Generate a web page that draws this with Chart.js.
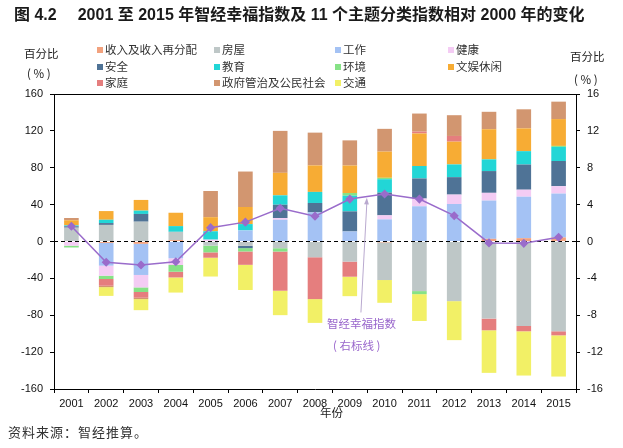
<!DOCTYPE html>
<html>
<head>
<meta charset="utf-8">
<script src="https://cdn.jsdelivr.net/npm/chart.js@4.4.1/dist/chart.umd.min.js"></script>
<style>
  html, body { margin: 0; padding: 0; background: #fff; }
  #wrap { position: relative; width: 623px; height: 448px; overflow: hidden;
          font-family: "Liberation Sans", "Noto Sans CJK SC", sans-serif; color: #222; }
  #chart { position: absolute; left: 0; top: 0; }
  .txt { position: absolute; white-space: nowrap; line-height: 1; }
  #title { left: 14px; top: 7px; font-size: 16px; font-weight: bold; color: #1a1a1a; }
  #title .num { margin-left: 21px; }
  .axt { font-size: 11.5px; font-family: "Noto Sans CJK SC", sans-serif; }
  .leg { position: absolute; font-size: 11.5px; font-family: "Noto Sans CJK SC", sans-serif;
         color: #333; white-space: nowrap; line-height: 14px; }
  .leg i { display: inline-block; width: 6px; height: 6px; margin-right: 2px; vertical-align: 1px; }
  .note { font-size: 11.5px; font-family: "Noto Sans CJK SC", sans-serif; color: #9966cc; }
</style>
</head>
<body>
<div id="wrap">
  <canvas id="chart" width="623" height="448"></canvas>
  <div id="title" class="txt">图 4.2<span class="num">2001 至 2015 年智经幸福指数及 11 个主题分类指数相对 2000 年的变化</span></div>
  <div class="txt axt" style="left:24px;top:48px;">百分比</div>
  <div class="txt axt" style="left:27px;top:68px;">( % )</div>
  <div class="txt axt" style="left:570px;top:51px;">百分比</div>
  <div class="txt axt" style="left:574px;top:74px;">( % )</div>
  <div class="txt axt" style="left:320px;top:407px;">年份</div>
  <div class="txt note" style="left:327px;top:318px;">智经幸福指数</div>
  <div class="txt note" style="left:333px;top:340px;">( 右标线 )</div>
  <div class="txt axt" style="left:8px;top:425px;font-size:13px;letter-spacing:1px;color:#333;">资料来源：智经推算。</div>
  <div id="legend"></div>
</div>
<script>
// categories
const years = ['2001', '2002', '2003', '2004', '2005', '2006', '2007', '2008',
  '2009', '2010', '2011', '2012', '2013', '2014', '2015'];

const seriesNames = ['收入及收入再分配', '房屋', '工作', '健康', '安全', '教育', '环境',
  '文娱休闲', '家庭', '政府管治及公民社会', '交通'];

// change vs 2000 (%), left axis
const income      = [0, -1.5, -2.5, 1.5, 0, 0, 0, 0, 0, -1, 0, 0, 2.9, 3.6, 4.4];
const housing     = [15, 18, 21.5, 9, -4.5, -4.7, -7.3, -17.1, -21.8, -40.8, -53.8, -64.7, -83.6, -91.6, -97.4];
const work        = [0, -24.7, -33.8, -18.2, 0, 12, 23.6, 31.6, 10.9, 24, 38.2, 40.7, 41.5, 45, 47.6];
const health      = [-4.5, -10.9, -13.5, -7.3, 2, 0, 1.8, 0, 0, 4.4, 8.4, 10.2, 8.4, 7.6, 8];
const safety      = [1.5, 2, 8.4, 0, 0, -2.5, 14.5, 10.2, 21.8, 24.7, 21.8, 18.9, 23.6, 27.3, 27.3];
const education   = [1, 3.6, 3.6, 6.2, 9.1, 6.9, 10.2, 12, 17, 14.5, 13.5, 13.8, 12.7, 14.5, 15.3];
const environment = [-2, -3.6, -5, -7.3, -7.3, -3.6, -3.6, 0, 2.9, 1.5, -3.3, 0, 0, 0, 1.1];
const leisure     = [5.5, 9.4, 11.6, 14.5, 15.3, 18.5, 24.4, 28.7, 29.8, 28.4, 35.3, 24.7, 32.7, 24.7, 29.1];
const family      = [0, -7.3, -6.2, -6.2, -5.8, -14.5, -42.5, -45.4, -16.4, 0, 2, 6.2, -12.7, -5.8, -4.4];
const governance  = [2.5, -1.5, -1.5, 0, 28.4, 38.5, 45.5, 35.6, 27.3, 24.7, 19.6, 22.5, 18.9, 20.7, 18.9];
const transport   = [0, -9.5, -12, -16.4, -20.4, -27.3, -26.5, -25.8, -21.1, -24.7, -29.1, -42.3, -46.2, -48, -44.7];

// happiness index (%), right axis
const happinessIndex = [1.65, -2.25, -2.55, -2.2, 1.5, 2.1, 3.6, 2.75, 4.6, 5.15, 4.6, 2.8, -0.15, -0.2, 0.45];

const seriesValues = [income, housing, work, health, safety, education, environment,
  leisure, family, governance, transport];
const seriesColors = ['#f2a27e', '#bec7c7', '#a4c2f4', '#f4ccf4', '#4f7396', '#22d6d6',
  '#86e286', '#f7ac34', '#e57e7e', '#d29670', '#f2f066'];
const lineColor = '#9a6ccb';

// legend (4 columns, built from the series)
const legCols = [97, 214, 335, 448];
const legRows = [42, 58.5, 75];
const legend = document.getElementById('legend');
seriesNames.forEach((name, i) => {
  const d = document.createElement('div');
  d.className = 'leg';
  d.style.left = legCols[i % 4] + 'px';
  d.style.top = legRows[Math.floor(i / 4)] + 'px';
  d.innerHTML = '<i style="background:' + seriesColors[i] + '"></i>' + name;
  legend.appendChild(d);
});

const datasets = seriesNames.map((name, i) => ({
  label: name,
  data: seriesValues[i],
  backgroundColor: seriesColors[i],
  borderWidth: 0,
  yAxisID: 'y',
  order: 1
}));
datasets.push({
  type: 'line',
  label: '智经幸福指数',
  data: happinessIndex,
  yAxisID: 'y1',
  borderColor: lineColor,
  backgroundColor: lineColor,
  borderWidth: 1.5,
  pointStyle: 'rectRot',
  pointRadius: 3.5,
  tension: 0,
  order: 0
});

// zero dashed line, top frame and the arrow to the line
const extras = {
  id: 'extras',
  beforeDatasetDraw(chart, args) {
    if (chart.data.datasets[args.index].type !== 'line') return;
    const ctx = chart.ctx, a = chart.chartArea;
    const y0 = chart.scales.y.getPixelForValue(0);
    ctx.save();
    ctx.strokeStyle = '#000';
    ctx.lineWidth = 1.2;
    ctx.setLineDash([4, 3]);
    ctx.beginPath();
    ctx.moveTo(a.left, y0);
    ctx.lineTo(a.right, y0);
    ctx.stroke();
    ctx.restore();
  },
  afterDraw(chart) {
    const ctx = chart.ctx, a = chart.chartArea;
    const sx = chart.scales.x, sy = chart.scales.y, sy1 = chart.scales.y1;
    ctx.save();
    ctx.strokeStyle = '#000';
    ctx.lineWidth = 1;
    ctx.beginPath();
    ctx.moveTo(a.left, a.top + 0.5);
    ctx.lineTo(a.right, a.top + 0.5);
    ctx.stroke();
    // arrow
    const x1 = sx.getPixelForValue(8.32), y1 = sy.getPixelForValue(-77);
    const x2 = sx.getPixelForValue(8.49), y2 = sy1.getPixelForValue(4.75);
    ctx.strokeStyle = '#b9a9cf';
    ctx.fillStyle = '#b9a9cf';
    ctx.beginPath();
    ctx.moveTo(x1, y1);
    ctx.lineTo(x2, y2 + 5);
    ctx.stroke();
    const ang = Math.atan2(y2 - y1, x2 - x1);
    ctx.beginPath();
    ctx.moveTo(x2, y2);
    ctx.lineTo(x2 - 7 * Math.cos(ang - 0.35), y2 - 7 * Math.sin(ang - 0.35));
    ctx.lineTo(x2 - 7 * Math.cos(ang + 0.35), y2 - 7 * Math.sin(ang + 0.35));
    ctx.closePath();
    ctx.fill();
    ctx.restore();
  }
};

const tickFont = { family: 'Liberation Sans', size: 11 };

new Chart(document.getElementById('chart'), {
  type: 'bar',
  data: { labels: years, datasets: datasets },
  options: {
    responsive: false,
    animation: false,
    devicePixelRatio: 1,
    layout: { padding: { top: 94, left: 0, right: 0, bottom: 0 } },
    datasets: { bar: { barPercentage: 1, categoryPercentage: 0.42 } },
    plugins: { legend: { display: false }, tooltip: { enabled: false } },
    scales: {
      x: {
        stacked: true,
        grid: { drawOnChartArea: false, tickLength: 4, color: '#000' },
        border: { color: '#000', width: 1 },
        ticks: { font: tickFont, color: '#111', padding: 4, maxRotation: 0 },
        afterFit(s) { s.height = 59; }
      },
      y: {
        stacked: true,
        position: 'left',
        min: -160, max: 160,
        grid: { drawOnChartArea: false, tickLength: 4, color: '#000' },
        border: { color: '#000', width: 1 },
        ticks: { stepSize: 40, font: tickFont, color: '#111', padding: 7 },
        afterFit(s) { s.width = 54; }
      },
      y1: {
        position: 'right',
        min: -16, max: 16,
        grid: { drawOnChartArea: false, tickLength: 4, color: '#000' },
        border: { color: '#000', width: 1 },
        ticks: { stepSize: 4, font: tickFont, color: '#111', padding: 7 },
        afterFit(s) { s.width = 47; }
      }
    }
  },
  plugins: [extras]
});
</script>
</body>
</html>
